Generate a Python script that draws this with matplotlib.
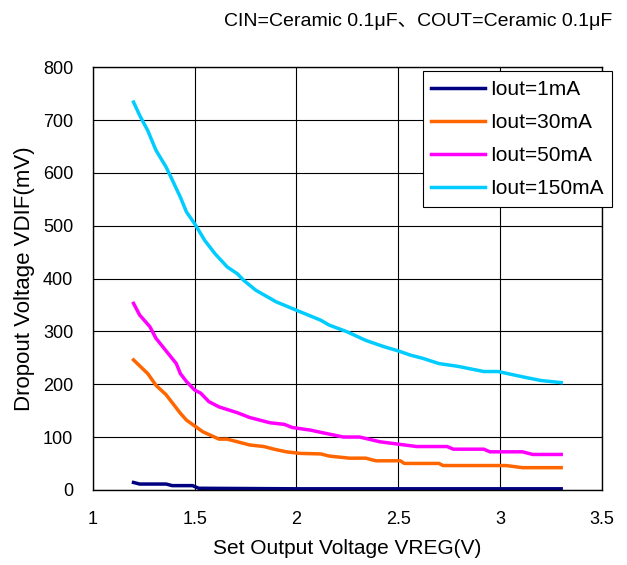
import numpy as np
import matplotlib
matplotlib.use('Agg')
import matplotlib.pyplot as plt

plt.rcParams['font.family'] = ['Liberation Sans', 'Noto Sans CJK JP', 'DejaVu Sans']

# Iout = 1mA
x_1ma = [1.2, 1.23, 1.36, 1.39, 1.49, 1.52, 2.0, 2.5, 3.0, 3.3]
y_1ma = [14, 11, 11, 8, 8, 3, 2, 2, 2, 2]

# Iout = 30mA
x_30ma = [1.2, 1.27, 1.31, 1.36, 1.43, 1.46, 1.5, 1.54, 1.62, 1.66, 1.77, 1.84, 1.89,
          1.95, 2.02, 2.12, 2.16, 2.26, 2.34, 2.39, 2.51, 2.53, 2.7, 2.72, 3.03, 3.11, 3.3]
y_30ma = [246, 220, 198, 180, 145, 132, 121, 110, 96, 96, 85, 82, 77,
          72, 69, 68, 64, 60, 60, 55, 55, 50, 50, 46, 46, 42, 42]

# Iout = 50mA
x_50ma = [1.2, 1.23, 1.28, 1.31, 1.41, 1.43, 1.46, 1.5, 1.53, 1.57, 1.62, 1.71, 1.77,
          1.87, 1.94, 1.98, 2.07, 2.13, 2.23, 2.31, 2.41, 2.51, 2.59, 2.74, 2.77, 2.92,
          2.95, 3.11, 3.16, 3.3]
y_50ma = [353, 331, 309, 287, 239, 220, 205, 189, 183, 167, 157, 146, 137,
          127, 124, 118, 113, 108, 100, 100, 91, 86, 82, 82, 77, 77,
          72, 72, 67, 67]

# Iout = 150mA
x_150ma = [1.2, 1.23, 1.27, 1.31, 1.36, 1.38, 1.43, 1.46, 1.5, 1.55, 1.6, 1.66, 1.71,
           1.74, 1.8, 1.9, 2.0, 2.12, 2.16, 2.25, 2.34, 2.43, 2.5, 2.56, 2.62, 2.7,
           2.79, 2.92, 2.99, 3.11, 3.2, 3.3]
y_150ma = [734, 709, 680, 643, 611, 595, 554, 526, 504, 472, 447, 422, 409,
           397, 378, 356, 340, 321, 312, 299, 283, 271, 263, 255, 249, 239,
           234, 224, 224, 214, 207, 203]

fig = plt.figure(figsize=(6.27, 5.65), dpi=100)
ax = fig.add_axes([0.148, 0.133, 0.812, 0.748])

ax.plot(x_1ma, y_1ma, color='#000080', lw=2.5, label='Iout=1mA')
ax.plot(x_30ma, y_30ma, color='#FF6600', lw=2.5, label='Iout=30mA')
ax.plot(x_50ma, y_50ma, color='#FF00FF', lw=2.5, label='Iout=50mA')
ax.plot(x_150ma, y_150ma, color='#00CCFF', lw=2.5, label='Iout=150mA')

ax.set_xlim(1, 3.5)
ax.set_ylim(0, 800)
ax.set_xticks(np.arange(1, 3.51, 0.5))
ax.set_xticklabels(['1', '1.5', '2', '2.5', '3', '3.5'])
ax.set_yticks(np.arange(0, 801, 100))
ax.grid(True, color='black', lw=0.8)
ax.tick_params(length=0, labelsize=13)
ax.tick_params(axis='x', pad=15)
ax.tick_params(axis='y', pad=14)
for s in ax.spines.values():
    s.set_color('black')
    s.set_linewidth(1.0)

ax.set_xlabel('Set Output Voltage VREG(V)', fontsize=15, labelpad=8)
ax.set_ylabel('Dropout Voltage VDIF(mV)', fontsize=16, labelpad=6)

leg = ax.legend(loc='upper right', bbox_to_anchor=(1.02, 0.99), borderaxespad=0,
                fontsize=15, fancybox=False, framealpha=1, edgecolor='black',
                handlelength=2.6, handletextpad=0.25, labelspacing=0.68,
                borderpad=0.4)
leg.get_frame().set_linewidth(0.8)

fig.text(0.976, 0.962, 'CIN=Ceramic 0.1μF、COUT=Ceramic 0.1μF', ha='right', va='center', fontsize=14)

fig.savefig('out.png', dpi=100)
